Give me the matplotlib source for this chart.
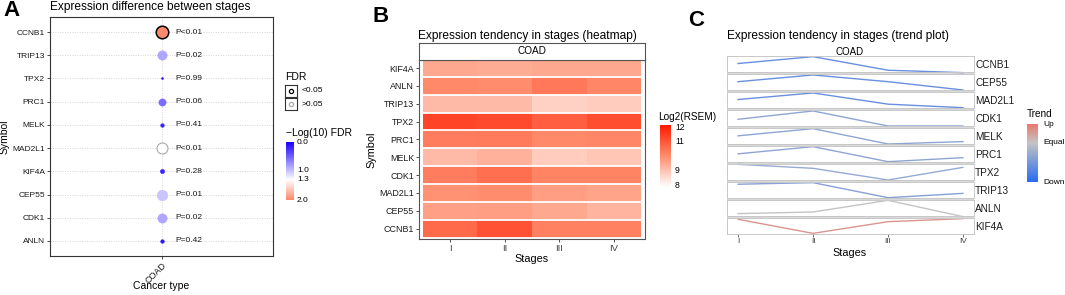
import matplotlib
matplotlib.use("Agg")
import matplotlib.pyplot as plt
import numpy as np
from matplotlib.colors import LinearSegmentedColormap, Normalize

plt.rcParams['font.family'] = ['Liberation Sans', 'DejaVu Sans']

# ---- data ----
# panel A (top to bottom)
genes_a = ['CCNB1', 'TRIP13', 'TPX2', 'PRC1', 'MELK', 'MAD2L1', 'KIF4A', 'CEP55', 'CDK1', 'ANLN']
p_values = [0.004, 0.02, 0.99, 0.06, 0.41, 0.009, 0.28, 0.01, 0.02, 0.42]
p_labels = ['P<0.01', 'P=0.02', 'P=0.99', 'P=0.06', 'P=0.41', 'P<0.01', 'P=0.28', 'P=0.01', 'P=0.02', 'P=0.42']
log_fdr = [2.0, 0.85, 0.0, 0.55, 0.15, 1.3, 0.2, 1.0, 0.85, 0.1]
fdr_sig = [True, False, False, False, False, False, False, False, False, False]

# panels B and C (heatmap bottom row / trend top facet first)
genes = ['CCNB1', 'CEP55', 'MAD2L1', 'CDK1', 'MELK', 'PRC1', 'TPX2', 'TRIP13', 'ANLN', 'KIF4A']
stages = ['I', 'II', 'III', 'IV']
expr = [
    [10.6, 11.0, 10.2, 10.2],
    [9.65, 9.7, 9.5, 9.3],
    [9.9, 10.0, 9.7, 9.6],
    [10.25, 10.5, 10.15, 10.15],
    [9.2, 9.35, 8.9, 9.0],
    [10.25, 10.3, 10.05, 10.1],
    [11.25, 11.15, 10.8, 11.1],
    [9.2, 9.2, 8.8, 8.9],
    [10.05, 10.0, 10.35, 10.1],
    [9.5, 9.45, 9.5, 9.5],
]
trend_scaled = [
    [0.53, 0.96, 0.11, -0.04],
    [0.52, 0.94, 0.52, 0.0],
    [0.53, 0.94, 0.24, 0.02],
    [0.42, 0.94, 0.0, 0.0],
    [0.51, 0.96, 0.0, 0.15],
    [0.51, 0.96, 0.02, 0.27],
    [0.98, 0.73, 0.0, 0.79],
    [0.86, 0.96, 0.02, 0.29],
    [0.15, 0.25, 0.98, -0.04],
    [0.92, 0.04, 0.77, 0.96],
]
trend_score = [-0.6, -0.6, -0.6, -0.35, -0.35, -0.35, -0.3, -0.4, 0.0, 0.3]

W, H = 1065, 295
fig = plt.figure(figsize=(W / 100, H / 100), dpi=100)


def px_axes(x0, y0, x1, y1):
    return fig.add_axes([x0 / W, 1 - y1 / H, (x1 - x0) / W, (y1 - y0) / H])


def ftext(x, y, s, **kw):
    return fig.text(x / W, 1 - y / H, s, **kw)


def no_ticks(a):
    a.set_xticks([])
    a.set_yticks([])


dark = '#333333'
txt = '#1a1a1a'

# ================= Panel A =================
cmap_a = LinearSegmentedColormap.from_list('fdr', [(0, '#1a00ff'), (0.65, '#ffffff'), (1, '#fa8a6c')])
norm_a = Normalize(0, 2)
ax = px_axes(50, 17, 273, 256)
n = len(genes_a)
ys = np.arange(n, 0, -1)
for y in ys:
    ax.axhline(y, color='#d4d4d4', lw=0.7, ls=(0, (1, 1.5)), zorder=0)
ax.axvline(1, color='#d4d4d4', lw=0.7, ls=(0, (1, 1.5)), zorder=0)
diam = [2 + 4.4 * min(-np.log10(p), 2.4) for p in p_values]
sizes = [(d * 0.72) ** 2 for d in diam]
for y, s, v, sig, lab in zip(ys, sizes, log_fdr, fdr_sig, p_labels):
    ec = 'black' if sig else '#aaaaaa'
    lw = 1.1 if sig else 0.8
    if not sig and v < 1.2:
        ec = cmap_a(norm_a(v))
        lw = 0.3
    ax.scatter(1, y, s=s, color=cmap_a(norm_a(v)), edgecolors=ec, linewidths=lw, zorder=3)
    ax.annotate(lab, (1, y), xytext=(10, 0), textcoords='offset points',
                fontsize=6, va='center', ha='left', color=txt)
ax.set_xlim(0.4, 1.6)
ax.set_ylim(0.35, n + 0.65)
ax.set_yticks(ys)
ax.set_yticklabels(genes_a, fontsize=6, color=txt)
ax.set_xticks([1])
ax.set_xticklabels(['COAD'], rotation=45, ha='right', va='top', rotation_mode='anchor',
                   fontsize=6.5, color=txt)
ax.tick_params(length=2, width=0.6, color=dark, pad=1.5)
for sp in ax.spines.values():
    sp.set_color(dark)
    sp.set_linewidth(0.8)
ax.set_ylabel('Symbol', fontsize=7.5, labelpad=2)
ftext(161, 286, 'Cancer type', fontsize=7.5, ha='center', va='center')
ftext(50, 7, 'Expression difference between stages', fontsize=8.6, va='center')

# legend FDR
ftext(285, 77, 'FDR', fontsize=7.5, va='center')
for i, (lab, ec) in enumerate([('<0.05', 'black'), ('>0.05', '#aaaaaa')]):
    top = 85 + i * 13
    lax = px_axes(285, top, 297, top + 12)
    lax.set_xlim(0, 1)
    lax.set_ylim(0, 1)
    no_ticks(lax)
    for sp in lax.spines.values():
        sp.set_color(dark)
        sp.set_linewidth(0.8)
    lax.scatter(0.5, 0.5, s=9, facecolor='white', edgecolors=ec, linewidths=0.9)
    ftext(302, top + 6, lab, fontsize=6, va='center')

ftext(286, 133, '\u2212Log(10) FDR', fontsize=7.5, va='center')
cax = px_axes(286, 142, 294, 200)
grad = np.linspace(0, 2, 200).reshape(-1, 1)
cax.imshow(grad, aspect='auto', cmap=cmap_a, norm=norm_a, extent=(0, 1, 2, 0))
no_ticks(cax)
for sp in cax.spines.values():
    sp.set_visible(False)
for v in [0.0, 1.0, 1.3, 2.0]:
    ftext(297, 142 + v * 29, f'{v:.1f}', fontsize=6, va='center')

ftext(12, 11, 'A', fontsize=16, fontweight='bold', ha='center', va='center')

# ================= Panel B =================
cmap_b = LinearSegmentedColormap.from_list('rsem', [(0, '#ffffff'), (0.5, '#ff8c6c'), (1, '#ff1a00')])
norm_b = Normalize(8, 12)
bx = px_axes(419, 60, 645, 239)
data = np.array(expr)
bx.pcolormesh(np.arange(0.5, 5.0, 1.0), np.arange(0.5, len(genes) + 1.0, 1.0), data,
              cmap=cmap_b, norm=norm_b, shading='flat')
for y in np.arange(0.5, len(genes) + 1.0, 1.0):
    bx.axhline(y, color='white', lw=1.3)
bx.set_xlim(0.43, 4.57)
bx.set_ylim(0.42, len(genes) + 0.45)
bx.set_yticks(np.arange(1, len(genes) + 1))
bx.set_yticklabels(genes, fontsize=6.4, color=txt)
bx.set_xticks(np.arange(1, 5))
bx.set_xticklabels(stages, fontsize=6.8, color='#444444')
bx.tick_params(length=2, width=0.6, color=dark, pad=1.5)
for sp in bx.spines.values():
    sp.set_color('#555555')
    sp.set_linewidth(0.8)
bx.set_xlabel('Stages', fontsize=7.8, labelpad=1)
bx.set_ylabel('Symbol', fontsize=7.8, labelpad=2)

sx = px_axes(419, 43, 645, 60)
no_ticks(sx)
for sp in sx.spines.values():
    sp.set_color('#555555')
    sp.set_linewidth(0.8)
sx.text(0.5, 0.5, 'COAD', fontsize=7.2, ha='center', va='center', transform=sx.transAxes)
ftext(418, 36, 'Expression tendency in stages (heatmap)', fontsize=8.6, va='center')

ftext(658, 117, 'Log2(RSEM)', fontsize=7.2, va='center')
cbx = px_axes(660, 125, 671, 187)
grad = np.linspace(12, 8, 200).reshape(-1, 1)
cbx.imshow(grad, aspect='auto', cmap=cmap_b, norm=norm_b, extent=(0, 1, 8, 12))
no_ticks(cbx)
for sp in cbx.spines.values():
    sp.set_visible(False)
for v in [12, 11, 9, 8]:
    ftext(675, 127 + (12 - v) * 14.5, str(v), fontsize=6.2, va='center')

ftext(381, 16, 'B', fontsize=16, fontweight='bold', ha='center', va='center')

# ================= Panel C =================
cmap_c = LinearSegmentedColormap.from_list('trend', [(0, '#2a6cf2'), (0.667, '#c4c4c4'), (1, '#e8766a')])
norm_c = Normalize(-1, 0.5)
bg = px_axes(727, 56, 974, 234)
bg.set_facecolor('#d9d9d9')
no_ticks(bg)
for sp in bg.spines.values():
    sp.set_visible(False)

facet_h, gap = 16, 2
for i, (g, vals, sc) in enumerate(zip(genes, trend_scaled, trend_score)):
    top = 56 + i * (facet_h + gap)
    fx = px_axes(727, top, 974, top + facet_h)
    fx.plot(np.arange(1, 5), vals, color=cmap_c(norm_c(sc)), lw=1.0, clip_on=False)
    fx.set_xlim(0.853, 4.147)
    fx.set_ylim(0, 1)
    fx.set_yticks([])
    for sp in fx.spines.values():
        sp.set_color('#c8c8c8')
        sp.set_linewidth(0.7)
    if i == len(genes) - 1:
        fx.set_xticks(np.arange(1, 5))
        fx.set_xticklabels(stages, fontsize=6, color='#444444')
        fx.tick_params(length=2, width=0.6, color='#555555', pad=1)
    else:
        fx.set_xticks([])
    ftext(975, top + facet_h / 2 + 1, g, fontsize=7.2, va='center', color=txt)

ftext(850, 52, 'COAD', fontsize=7, ha='center', va='center')
ftext(850, 253, 'Stages', fontsize=7.8, ha='center', va='center')
ftext(727, 36, 'Expression tendency in stages (trend plot)', fontsize=8.6, va='center')

ftext(1027, 114, 'Trend', fontsize=7.2, va='center')
tcx = px_axes(1027, 124, 1038, 182)
grad = np.linspace(0.5, -1, 200).reshape(-1, 1)
tcx.imshow(grad, aspect='auto', cmap=cmap_c, norm=norm_c, extent=(0, 1, -1, 0.5))
no_ticks(tcx)
for sp in tcx.spines.values():
    sp.set_visible(False)
ftext(1043, 124, 'Up', fontsize=6, va='center')
ftext(1043, 143, 'Equal', fontsize=6, va='center')
ftext(1043, 182, 'Down', fontsize=6, va='center')

ftext(696, 21, 'C', fontsize=16, fontweight='bold', ha='center', va='center')

fig.savefig('out.png', dpi=100)
